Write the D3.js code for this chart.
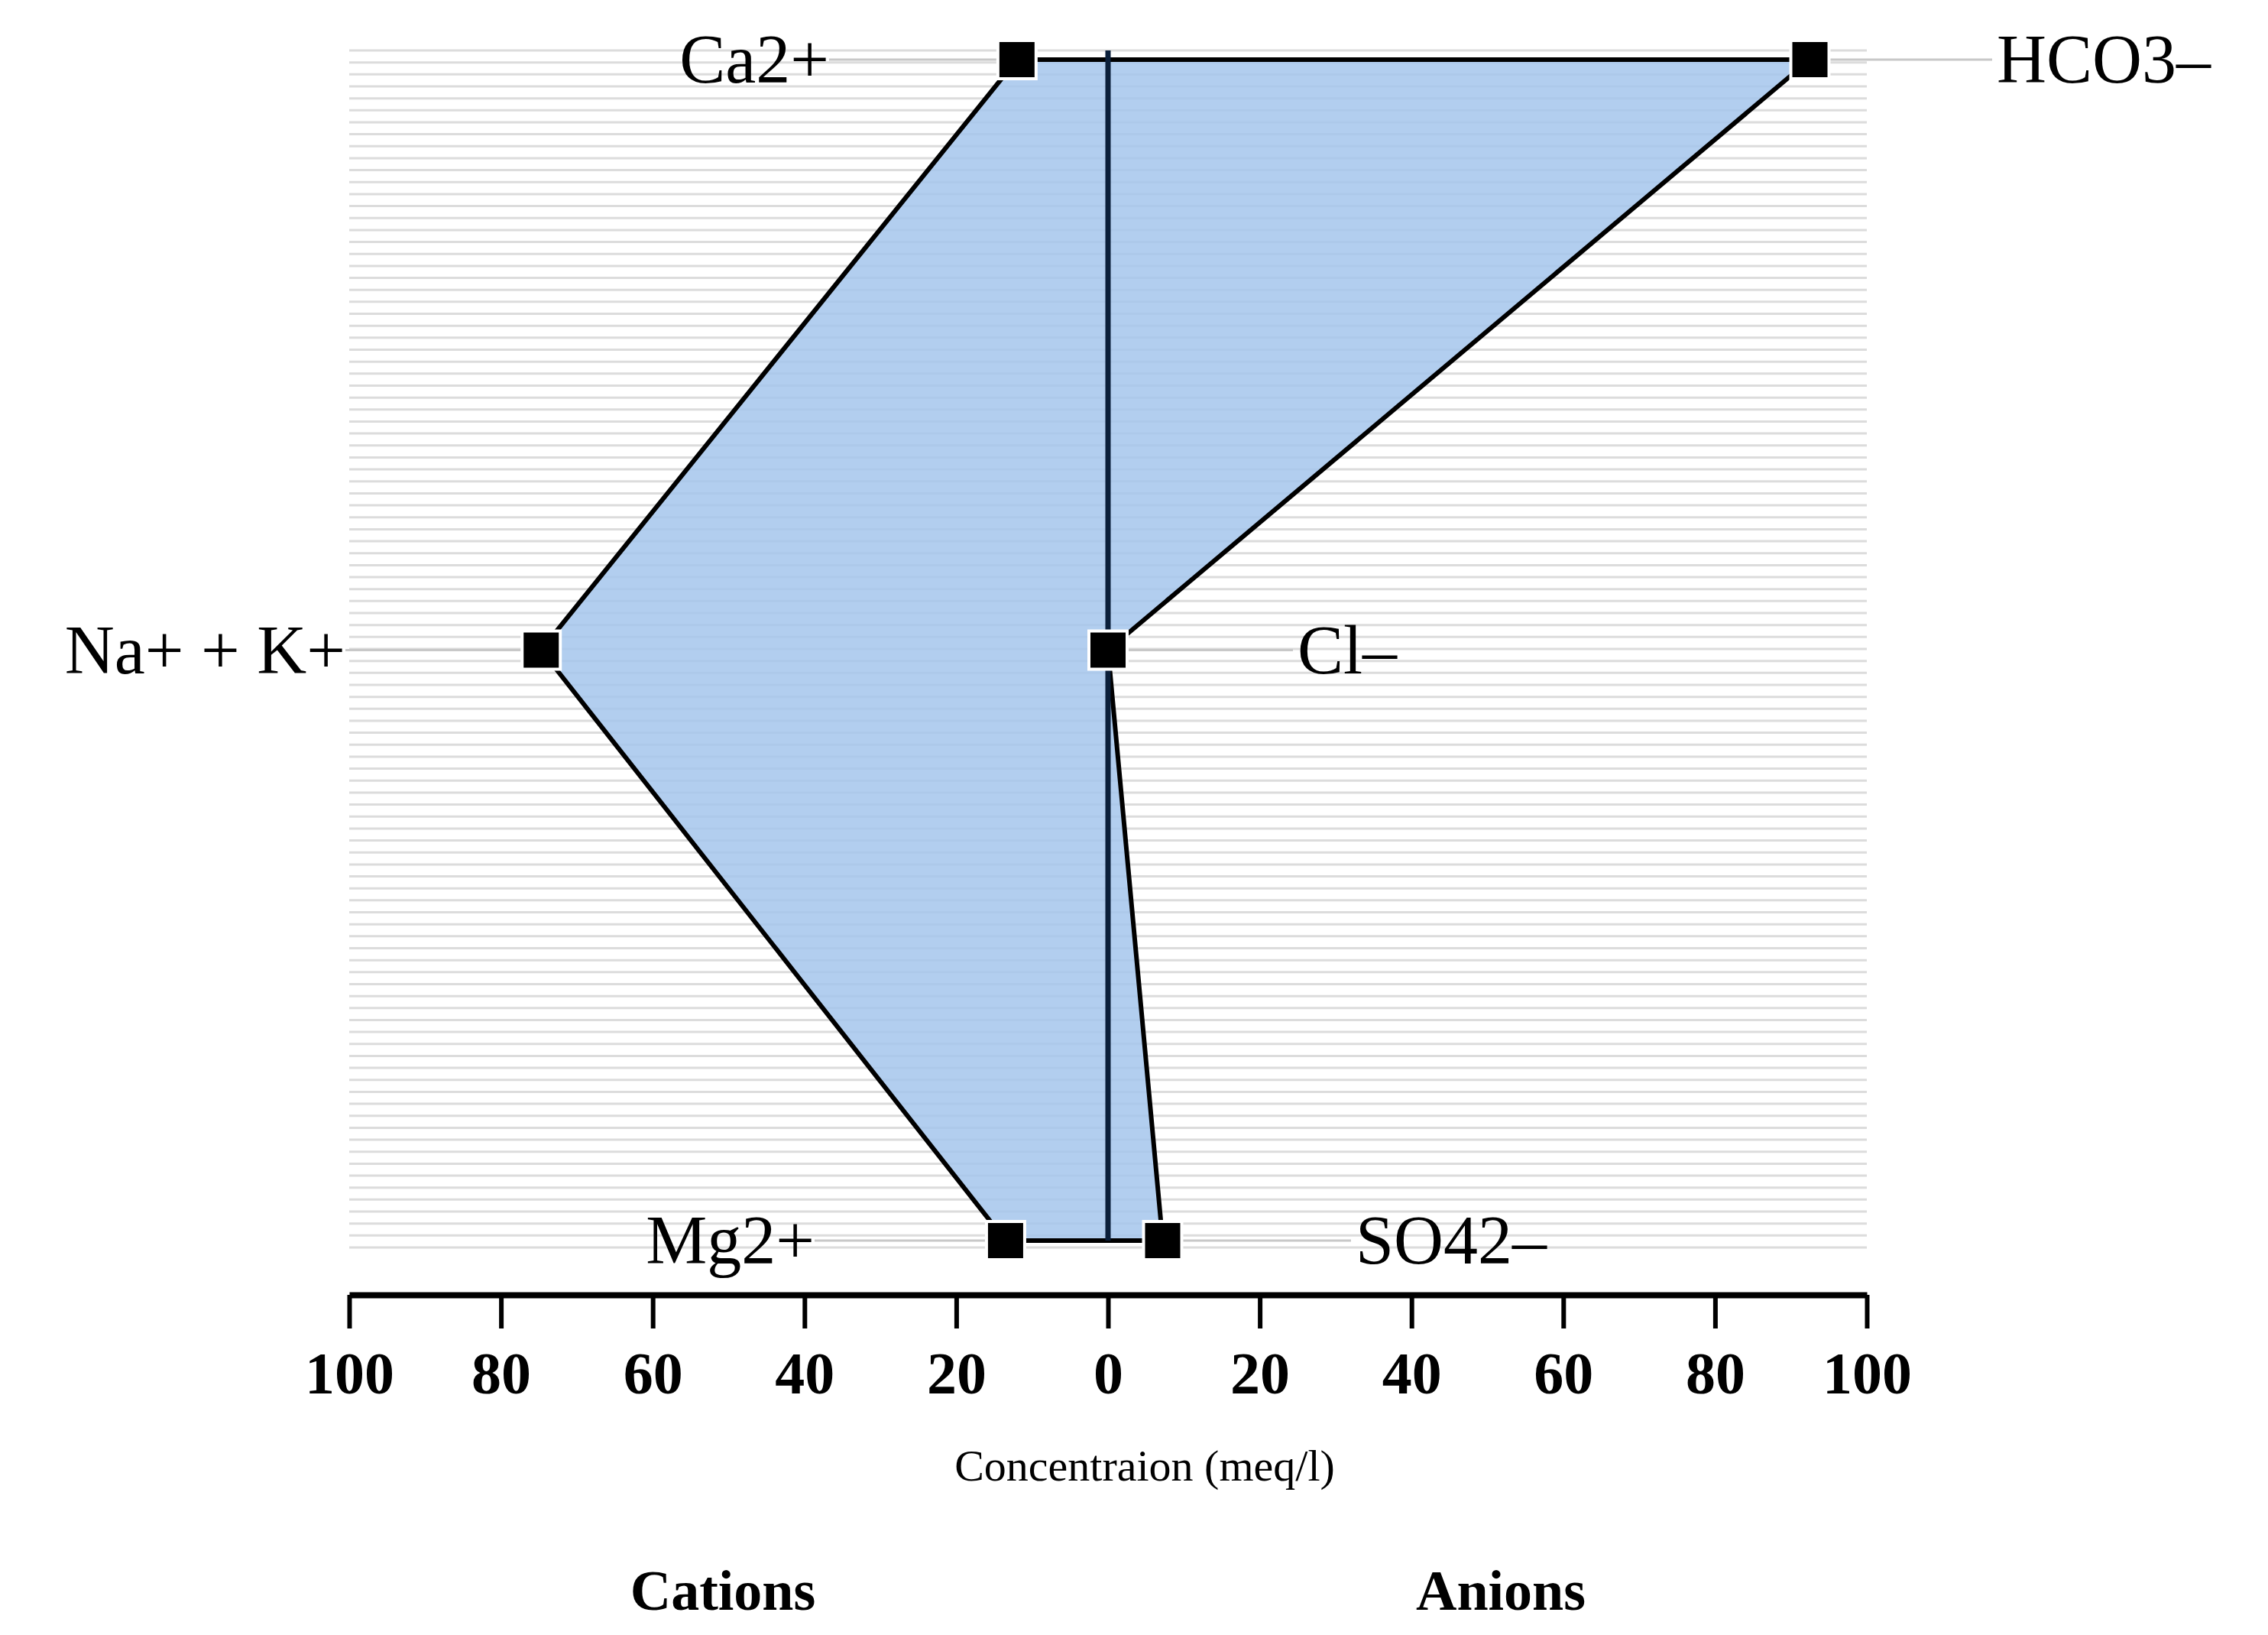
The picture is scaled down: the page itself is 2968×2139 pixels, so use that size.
<!DOCTYPE html>
<html><head><meta charset="utf-8">
<script src="https://cdn.jsdelivr.net/npm/d3@7"></script>
<style>body{margin:0;background:#fff}svg{display:block}</style></head>
<body><svg id="c" width="2968" height="2139"></svg>
<script>
const rows = ["top","middle","bottom"];
const cations = ["Ca2+","Na+ + K+","Mg2+"];
const cationValues = [12, 74.7, 13.5];
const anions = ["HCO3–","Cl–","SO42–"];
const anionValues = [92.5, 0, 7.2];
const tickValues = [-100,-80,-60,-40,-20,0,20,40,60,80,100];
const tickLabels = ["100","80","60","40","20","0","20","40","60","80","100"];

const svg = d3.select("#c");
const font = "'Liberation Serif','Times New Roman',serif";
const x = d3.scaleLinear().domain([-100,100]).range([457,2443]);
const y = d3.scalePoint().domain(rows).range([78,1623]);

// background grid lines
const grid = d3.range(0,101);
const gy = d3.scaleLinear().domain([0,100]).range([66,1632]);
svg.append("g").selectAll("line").data(grid).join("line")
  .attr("x1",x(-100)).attr("x2",x(100))
  .attr("y1",d=>gy(d)).attr("y2",d=>gy(d))
  .attr("stroke","#dcdcdc").attr("stroke-width",3);

// connector lines for labels
const catLabelEnd = [1085, 452, 1066];
const anLabelStart = [2613, 1698, 1774];
const cg = svg.append("g");
rows.forEach((r,i)=>{
  cg.append("line").attr("x1",catLabelEnd[i]).attr("x2",x(-cationValues[i]))
    .attr("y1",y(r)).attr("y2",y(r)).attr("stroke","#c8c8c8").attr("stroke-width",3);
  cg.append("line").attr("x1",x(anionValues[i])).attr("x2",anLabelStart[i]-6)
    .attr("y1",y(r)).attr("y2",y(r)).attr("stroke","#c8c8c8").attr("stroke-width",3);
});

// polygon
const pts = [
  [x(-cationValues[0]),y(rows[0])],
  [x(anionValues[0]),y(rows[0])],
  [x(anionValues[1]),y(rows[1])],
  [x(anionValues[2]),y(rows[2])],
  [x(-cationValues[2]),y(rows[2])],
  [x(-cationValues[1]),y(rows[1])]
];
svg.append("path").attr("d",d3.line()(pts)+"Z")
  .attr("fill","#a4c6ec").attr("fill-opacity",0.85)
  .attr("stroke","#000").attr("stroke-width",6).attr("stroke-linejoin","round");

// center line
svg.append("line").attr("x1",x(0)).attr("x2",x(0))
  .attr("y1",y(rows[0])-12).attr("y2",y(rows[2]))
  .attr("stroke","#0b1f3a").attr("stroke-width",7);

// markers
const mk = rows.flatMap((r,i)=>[[x(-cationValues[i]),y(r)],[x(anionValues[i]),y(r)]]);
svg.append("g").selectAll("rect").data(mk).join("rect")
  .attr("x",d=>d[0]-25).attr("y",d=>d[1]-25).attr("width",50).attr("height",50)
  .attr("fill","#000").attr("stroke","#fff").attr("stroke-width",4);

// labels
svg.append("g").selectAll("text").data(cations).join("text")
  .attr("x",(d,i)=>catLabelEnd[i]).attr("y",(d,i)=>y(rows[i])+30)
  .attr("text-anchor","end").attr("font-family",font).attr("font-size",90).text(d=>d);
svg.append("g").selectAll("text").data(anions).join("text")
  .attr("x",(d,i)=>anLabelStart[i]).attr("y",(d,i)=>y(rows[i])+30)
  .attr("text-anchor","start").attr("font-family",font).attr("font-size",90).text(d=>d);

// axis
const ax = svg.append("g").attr("transform","translate(0,1694)")
  .call(d3.axisBottom(x).tickValues(tickValues).tickFormat((d,i)=>tickLabels[i]).tickSize(44).tickPadding(30).tickSizeOuter(0));
ax.select(".domain").attr("stroke-width",8);
ax.selectAll(".tick line").attr("stroke-width",6);
ax.selectAll(".tick text").attr("font-family",font).attr("font-size",78).attr("font-weight","bold");

svg.append("text").attr("x",1498).attr("y",1937).attr("text-anchor","middle")
  .attr("font-family",font).attr("font-size",58).text("Concentraion (meq/l)");
svg.append("text").attr("x",946).attr("y",2106).attr("text-anchor","middle")
  .attr("font-family",font).attr("font-size",74).attr("font-weight","bold").text("Cations");
svg.append("text").attr("x",1964).attr("y",2106).attr("text-anchor","middle")
  .attr("font-family",font).attr("font-size",74).attr("font-weight","bold").text("Anions");
</script></body></html>
